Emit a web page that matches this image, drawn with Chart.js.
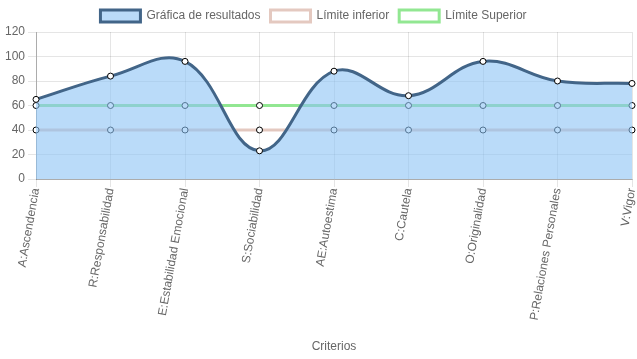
<!DOCTYPE html>
<html><head><meta charset="utf-8">
<script src="https://cdn.jsdelivr.net/npm/chart.js@4/dist/chart.umd.min.js"></script>
<style>html,body{margin:0;padding:0;background:#fff}#w{width:637px;height:359px}</style>
</head><body><div id="w"><canvas id="c"></canvas></div>
<script>
const categories = ["A:Ascendencia","R:Responsabilidad","E:Estabilidad Emocional","S:Sociabilidad","AE:Autoestima","C:Cautela","O:Originalidad","P:Relaciones Personales","V:Vigor"];
const resultados = [65,84,96,23,88,68,96,80,78];
const limiteInferior = [40,40,40,40,40,40,40,40,40];
const limiteSuperior = [60,60,60,60,60,60,60,60,60];
const yTicks = [0,20,40,60,80,100,120];

Chart.defaults.font.family = "'Liberation Sans', Arial, sans-serif";
Chart.defaults.font.size = 12;
Chart.defaults.color = '#666';

const shiftLegend = {
  id:'shiftLegend',
  afterLayout(chart){ if(chart.legend){ chart.legend.left -= 6; chart.legend.right -= 6; } }
};

new Chart(document.getElementById('c'), {
  type: 'line',
  plugins:[shiftLegend],
  data: {
    labels: categories,
    datasets: [
      {label:'Gráfica de resultados', data: resultados, borderColor:'rgb(66,101,136)', backgroundColor:'rgba(140,195,245,0.6)', borderWidth:3, fill:'origin', tension:0.4,
       pointBackgroundColor:'#fff', pointBorderColor:'#000', pointRadius:3, pointBorderWidth:1},
      {label:'Límite inferior', data: limiteInferior, borderColor:'rgba(225,195,185,0.9)', backgroundColor:'rgba(255,255,255,0)', borderWidth:3, fill:false, tension:0.4,
       pointBackgroundColor:'#fff', pointBorderColor:'#000', pointRadius:3, pointBorderWidth:1},
      {label:'Límite Superior', data: limiteSuperior, borderColor:'rgba(140,230,140,0.95)', backgroundColor:'rgba(255,255,255,0)', borderWidth:3, fill:false, tension:0.4,
       pointBackgroundColor:'#fff', pointBorderColor:'#000', pointRadius:3, pointBorderWidth:1}
    ]
  },
  options: {
    responsive:true, maintainAspectRatio:false, animation:false,
    layout:{padding:{left:2,right:0,top:0,bottom:1}},
    plugins:{
      legend:{labels:{boxWidth:40,boxHeight:12,padding:10,color:'#666'}},
      tooltip:{enabled:false}
    },
    scales:{
      x:{offset:false, grid:{color:'rgba(0,0,0,0.1)'}, border:{color:'rgba(0,0,0,0.25)'},
         afterFit:(s)=>{s.paddingRight=4;},
         ticks:{minRotation:80,maxRotation:80,color:'#666',padding:0},
         title:{display:true,text:'Criterios',color:'#666',padding:{top:20,bottom:4}}},
      y:{min:0,max:120, grid:{color:'rgba(0,0,0,0.1)'}, border:{color:'rgba(0,0,0,0.25)'},
         afterBuildTicks:(s)=>{s.ticks=yTicks.map(v=>({value:v}));},
         ticks:{color:'#666'}}
    }
  }
});
</script></body></html>
